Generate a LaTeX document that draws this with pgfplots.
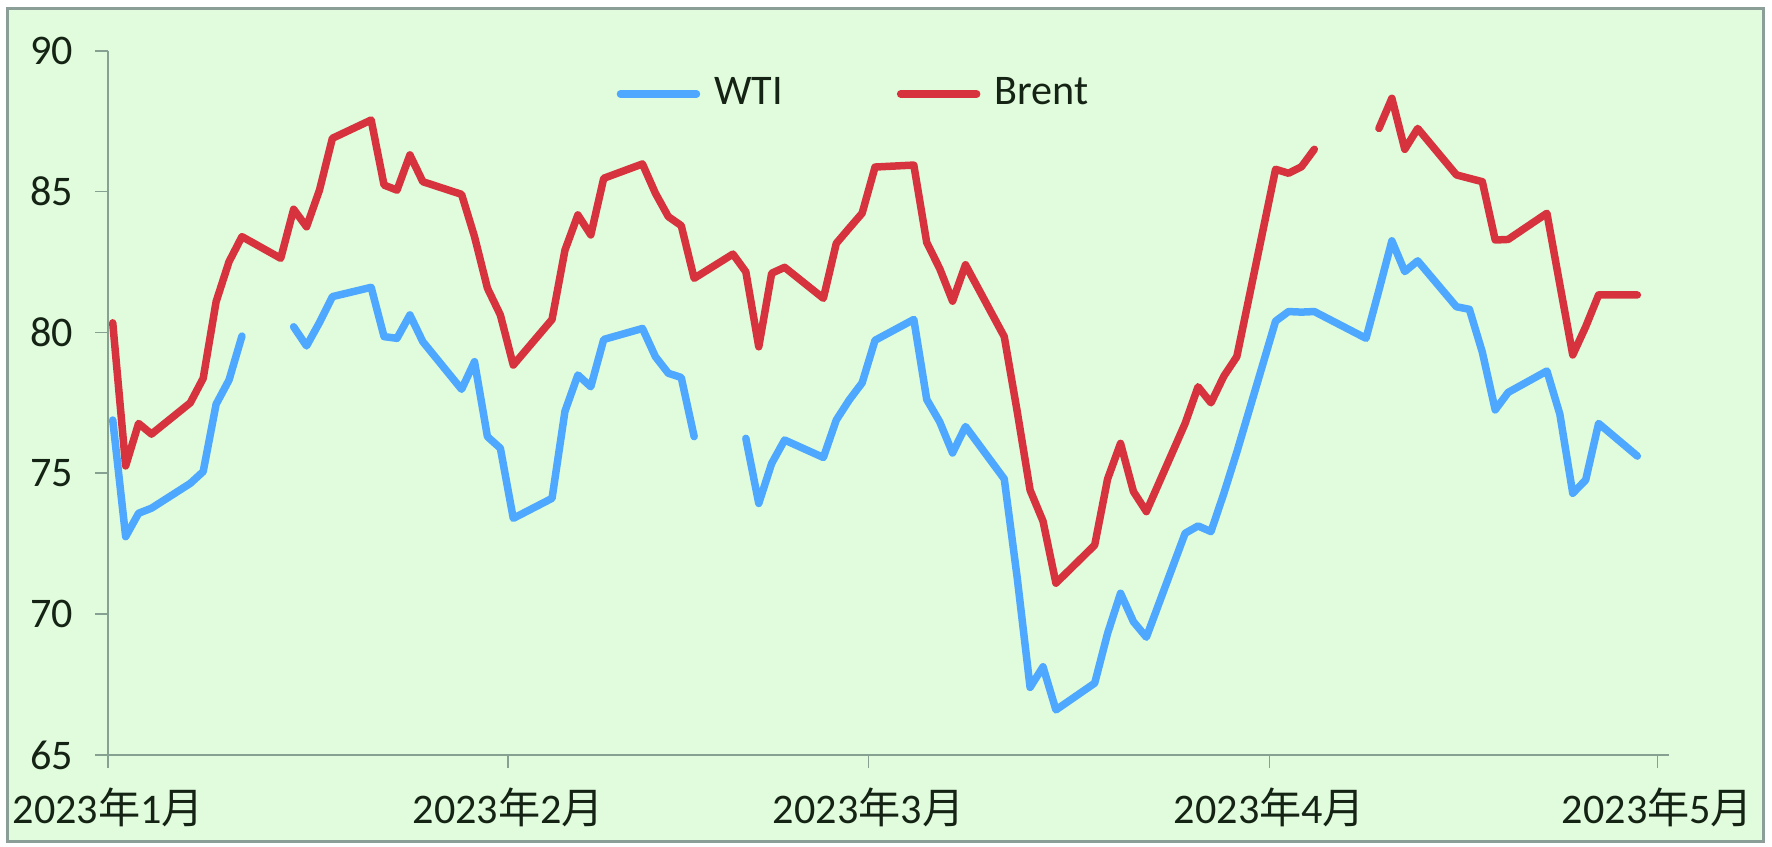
\documentclass[border=0pt]{standalone}
\usepackage{pgfplots}
\usepackage{pgfplotstable}
\pgfplotsset{compat=1.18}
\usepackage{fontspec}
\setmainfont{Carlito}
\newfontfamily\cjk{Noto Sans CJK SC}

\definecolor{bgc}{RGB}{224,252,220}
\definecolor{framec}{RGB}{140,158,152}
\definecolor{axc}{RGB}{134,160,145}
\definecolor{wtic}{RGB}{79,168,255}
\definecolor{brentc}{RGB}{215,51,63}
\definecolor{txt}{RGB}{20,35,20}

% d = days after 1 Jan 2023 (Jan 3 = 2); nan = no quote that day
\pgfplotstableread{
d   wti    brent
2   76.89  80.34
3   72.75  75.26
4   73.58  76.77
5   73.76  76.39
8   74.64  77.50
9   75.06  78.37
10  77.45  81.09
11  78.31  82.51
12  79.87  83.40
15  nan    82.63
16  80.20  84.37
17  79.52  83.75
18  80.35  85.05
19  81.27  86.89
22  81.60  87.54
23  79.85  85.23
24  79.79  85.05
25  80.62  86.30
26  79.67  85.35
29  77.98  84.90
30  78.96  83.40
31  76.30  81.57
32  75.89  80.62
33  73.40  78.84
36  74.11  80.46
37  77.20  82.92
38  78.49  84.17
39  78.07  83.46
40  79.75  85.47
43  80.14  85.98
44  79.14  84.94
45  78.55  84.11
46  78.40  83.79
47  76.30  81.92
50  nan    82.78
51  76.24  82.15
52  73.93  79.49
53  75.35  82.10
54  76.18  82.31
57  75.56  81.21
58  76.89  83.16
59  77.60  83.70
60  78.21  84.23
61  79.72  85.87
64  80.46  85.94
65  77.62  83.19
66  76.83  82.27
67  75.72  81.11
68  76.66  82.40
71  74.80  79.85
72  71.30  77.20
73  67.40  74.40
74  68.13  73.30
75  66.60  71.10
78  67.55  72.45
79  69.32  74.80
80  70.74  76.06
81  69.73  74.35
82  69.18  73.64
85  72.87  76.77
86  73.13  78.07
87  72.93  77.50
88  74.29  78.45
89  75.75  79.14
92  80.40  85.79
93  80.74  85.65
94  80.72  85.88
95  80.74  86.50
99  79.79  nan
100 81.50  87.24
101 83.25  88.31
102 82.16  86.50
103 82.54  87.24
106 80.91  85.59
107 80.82  85.47
108 79.30  85.35
109 77.25  83.28
110 77.87  83.30
113 78.63  84.23
114 77.10  81.70
115 74.29  79.20
116 74.76  80.20
117 76.77  81.33
120 75.61  81.33
}\prices

\begin{document}
\begin{tikzpicture}
\fill[white] (0,0) rectangle (177.2mm,84.7mm);
\draw[framec, fill=bgc, line width=0.3mm] (0.7mm,0.5mm) rectangle (176.3mm,83.8mm);
\begin{axis}[
    at={(10.83mm,9.2mm)}, anchor=south west,
    scale only axis, width=156.07mm, height=70.43mm,
    xmin=1.656, xmax=122.45, ymin=65, ymax=90,
    axis x line=bottom, axis y line=left,
    axis line style={axc, line width=0.5pt, -},
    xtick={1.656,32.62,60.5,91.53,121.56},
    xticklabels={2023{\cjk 年}1{\cjk 月},2023{\cjk 年}2{\cjk 月},2023{\cjk 年}3{\cjk 月},2023{\cjk 年}4{\cjk 月},2023{\cjk 年}5{\cjk 月}},
    ytick={65,70,...,90},
    tick align=outside, major tick length=1.3mm,
    tick style={axc, line width=0.5pt},
    tick label style={font=\fontsize{12}{14}\selectfont, text=txt},
    yticklabel style={xshift=-1mm},
    xticklabel style={yshift=-0.8mm},
    /pgf/number format/assume math mode=true,
    unbounded coords=jump,
    legend columns=2,
    legend style={draw=none, fill=none, at={(0.3253,0.9385)}, anchor=west,
        font=\fontsize{12}{14}\selectfont, text=txt, inner sep=0pt,
        nodes={inner xsep=1.4mm, inner ysep=0pt},
        /tikz/every even column/.append style={column sep=10mm}},
    legend image code/.code={\draw[#1, line cap=round] (0mm,0mm) -- (7.6mm,0mm);},
]
\addplot[wtic, line width=0.75mm, line join=round, line cap=round] table[x=d, y=wti] {\prices};
\addlegendentry{WTI}
\addplot[brentc, line width=0.75mm, line join=round, line cap=round] table[x=d, y=brent] {\prices};
\addlegendentry{Brent}
\end{axis}
\end{tikzpicture}
\end{document}
